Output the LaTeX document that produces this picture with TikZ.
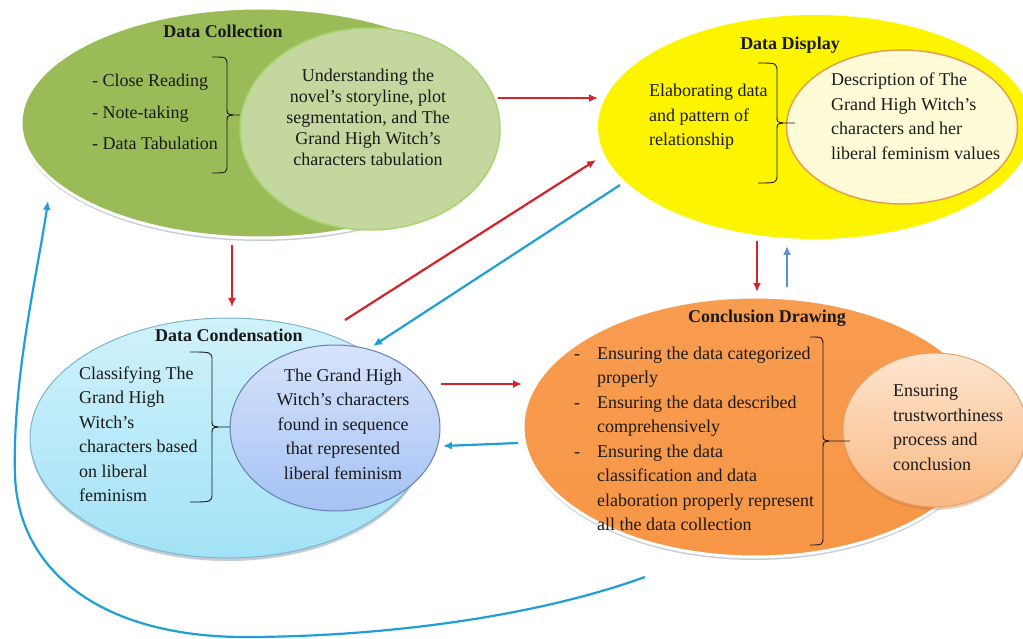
\documentclass[tikz,border=0pt]{standalone}
\usepackage{fontspec}
\setmainfont{Liberation Serif}
\usetikzlibrary{shapes.geometric,arrows.meta,shadows}
\definecolor{cgreen}{HTML}{9BBB59}
\definecolor{cgreenin}{HTML}{C4D79E}
\definecolor{cgreenbd}{HTML}{A9D570}
\definecolor{cyellow}{HTML}{FDF500}
\definecolor{cyellin}{HTML}{FFFBD6}
\definecolor{cyellbd}{HTML}{E3A055}
\definecolor{cbluetop}{HTML}{D0F2FB}
\definecolor{cbluebot}{HTML}{A2E2F6}
\definecolor{cbluebd}{HTML}{7DB6CC}
\definecolor{cviotop}{HTML}{D6E3FB}
\definecolor{cviobot}{HTML}{A5C2F4}
\definecolor{cviobd}{HTML}{6580AE}
\definecolor{corange}{HTML}{F79646}
\definecolor{corangetop}{HTML}{F89C50}
\definecolor{cpeachtop}{HTML}{FDE5CF}
\definecolor{cpeachbot}{HTML}{F9B882}
\definecolor{cpeachbd}{HTML}{E6A26B}
\definecolor{cred}{HTML}{D5232B}
\definecolor{cblue}{HTML}{1F9FD6}
\definecolor{csteel}{HTML}{5F8ED0}
\definecolor{ctext}{HTML}{1A1A1A}
\definecolor{cshadow}{HTML}{7F8FA8}
\newcommand{\mybrc}[5]{% x0, spine, tip, top, bottom
  \draw[bracestyle] (#1,#4) .. controls (#2,#4) .. (#2,{#4+9})
    -- (#2,{(#4+#5)/2-7}) .. controls (#2,{(#4+#5)/2-1}) .. ({#2+6},{(#4+#5)/2}) -- (#3,{(#4+#5)/2});
  \draw[bracestyle] (#1,#5) .. controls (#2,#5) .. (#2,{#5-9})
    -- (#2,{(#4+#5)/2+7}) .. controls (#2,{(#4+#5)/2+1}) .. ({#2+6},{(#4+#5)/2});
}
\begin{document}
\begin{tikzpicture}[x=1pt,y=-1pt,
  blob/.style={ellipse, inner sep=0pt, outer sep=0pt},
  shad/.style={drop shadow={fill=cshadow, opacity=0.45, shadow xshift=0pt, shadow yshift=-3pt}},
  txt/.style={text=ctext, font=\fontsize{18}{24.5}\selectfont, inner sep=0pt},
  ttl/.style={text=ctext, font=\fontsize{18}{22}\selectfont\bfseries, inner sep=0pt},
  bracestyle/.style={draw=ctext, line width=0.9pt},
  redarr/.style={draw=cred, line width=2.2pt, -{Latex[length=9pt,width=8pt]}},
  bluearr/.style={draw=cblue, line width=2.2pt, -{Latex[length=9pt,width=8pt]}},
  steelarr/.style={draw=csteel, line width=2.2pt, -{Latex[length=9pt,width=8pt]}}
]
\useasboundingbox (0,0) rectangle (1023,639);
\fill[white] (0,0) rectangle (1023,639);

% outer ellipses
\node[blob, shad, fill=cgreen, draw=white, line width=3pt, minimum width=478pt, minimum height=230pt] (coll) at (260,123) {};
\node[blob, fill=cyellow, minimum width=434pt, minimum height=224pt] (disp) at (815,127) {};
\node[blob, shad, top color=cbluetop, bottom color=cbluebot, draw=cbluebd, line width=1pt, minimum width=396pt, minimum height=240pt] (cond) at (228,438) {};
\node[blob, shad, top color=corangetop, bottom color=corange, draw=white, line width=3pt, minimum width=464pt, minimum height=260pt] (concl) at (755,427) {};

% inner ellipses
\node[blob, fill=cgreenin, draw=cgreenbd, line width=1.5pt, minimum width=260pt, minimum height=202pt] (collin) at (370,129) {};
\node[blob, fill=cyellin, draw=cyellbd, line width=1.5pt, minimum width=231pt, minimum height=154pt] (dispin) at (902,127) {};
\node[blob, top color=cviotop, bottom color=cviobot, draw=cviobd, line width=1pt, minimum width=210pt, minimum height=166pt] (condin) at (335,428) {};
\node[blob, drop shadow={fill=corange!80!black, opacity=0.35, shadow xshift=0pt, shadow yshift=-3pt}, top color=cpeachtop, bottom color=cpeachbot, draw=cpeachbd, line width=1pt, minimum width=184pt, minimum height=154pt] (conclin) at (935,430) {};

% titles
\node[ttl] (tcoll) at (223,31) {Data Collection};
\node[ttl] (tdisp) at (790,45) {Data Display};
\node[ttl] (tcond) at (229,335) {Data Condensation};
\node[ttl] (tconcl) at (767,318) {Conclusion Drawing};

% Data Collection texts
\node[txt, anchor=west, align=left, font=\fontsize{18}{31.5}\selectfont] (collL) at (92,112) {- Close Reading\\- Note-taking\\- Data Tabulation};
\node[txt, align=center, font=\fontsize{18}{21}\selectfont] (collR) at (368,117) {Understanding the\\novel’s storyline, plot\\segmentation, and The\\Grand High Witch’s\\characters tabulation};
\mybrc{212}{227}{240}{57}{173}

% Data Display texts
\node[txt, anchor=west, align=left] (dispL) at (649,117) {Elaborating data\\and pattern of\\relationship};
\node[txt, anchor=west, align=left] (dispR) at (831,116.5) {Description of The\\Grand High Witch’s\\characters and her\\liberal feminism values};
\mybrc{758}{777}{795}{63}{183}

% Data Condensation texts
\node[txt, anchor=west, align=left] (condL) at (79,434) {Classifying The\\Grand High\\Witch’s\\characters based\\on liberal\\feminism};
\node[txt, align=center] (condR) at (343,424) {The Grand High\\Witch’s characters\\found in sequence\\that represented\\liberal feminism};
\mybrc{190}{212}{230}{352}{502}

% Conclusion Drawing texts
\node[txt, anchor=west, align=left] (conclL) at (574,439) {\makebox[23pt][l]{-}Ensuring the data categorized\\
\hspace*{23pt}properly\\
\makebox[23pt][l]{-}Ensuring the data described\\
\hspace*{23pt}comprehensively\\
\makebox[23pt][l]{-}Ensuring the data\\
\hspace*{23pt}classification and data\\
\hspace*{23pt}elaboration properly represent\\
\hspace*{23pt}all the data collection};
\node[txt, anchor=west, align=left] (conclR) at (893,427.5) {Ensuring\\trustworthiness\\process and\\conclusion};
\mybrc{810}{823}{850}{337}{545}

% connector end points
\coordinate (p1a) at (498,98);   \coordinate (p1b) at (598,98);
\coordinate (p2a) at (232,245);  \coordinate (p2b) at (232,307);
\coordinate (p3a) at (345,320);  \coordinate (p3b) at (596,160);
\coordinate (p4a) at (620,185);  \coordinate (p4b) at (373,346);
\coordinate (p5a) at (441,384);  \coordinate (p5b) at (522,384);
\coordinate (p6a) at (518,443);  \coordinate (p6b) at (443,446);
\coordinate (p7a) at (757,241);  \coordinate (p7b) at (757,292);
\coordinate (p8a) at (787,287);  \coordinate (p8b) at (787,246);
\coordinate (p9a) at (645,577);  \coordinate (p9m) at (245,637);
\coordinate (p9n) at (15,475);   \coordinate (p9b) at (48,201);

\draw[redarr] (p1a) -- (p1b);
\draw[redarr] (p2a) -- (p2b);
\draw[redarr] (p3a) -- (p3b);
\draw[bluearr] (p4a) -- (p4b);
\draw[redarr] (p5a) -- (p5b);
\draw[bluearr] (p6a) -- (p6b);
\draw[redarr] (p7a) -- (p7b);
\draw[steelarr] (p8a) -- (p8b);
\draw[bluearr] (p9a) .. controls (520,622) and (360,637) .. (p9m)
  .. controls (100,637) and (18,570) .. (p9n)
  .. controls (12,380) and (38,270) .. (p9b);
\end{tikzpicture}
\end{document}
